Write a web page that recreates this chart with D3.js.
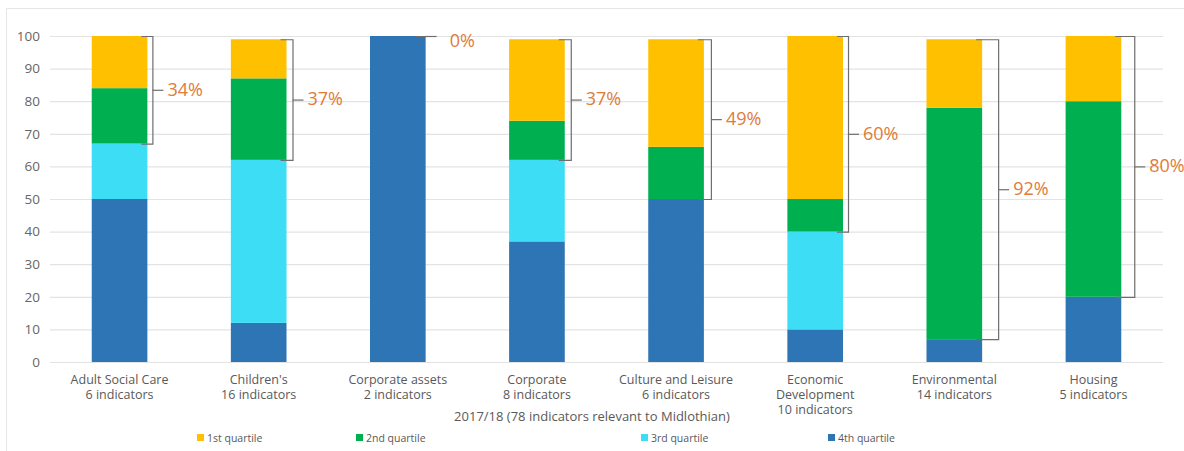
<!DOCTYPE html>
<html>
<head>
<meta charset="utf-8">
<script src="https://cdn.jsdelivr.net/npm/d3@7"></script>
<style>
  body { margin: 0; background: #fff; }
  text { font-family: "Open Sans", "Liberation Sans", sans-serif; }
</style>
</head>
<body>
<div id="chart"></div>
<script>
// Data
const categories = [
  ["Adult Social Care", "6 indicators"],
  ["Children's", "16 indicators"],
  ["Corporate assets", "2 indicators"],
  ["Corporate", "8 indicators"],
  ["Culture and Leisure", "6 indicators"],
  ["Economic", "Development", "10 indicators"],
  ["Environmental", "14 indicators"],
  ["Housing", "5 indicators"]
];
const quartile4 = [50, 12, 100, 37, 50, 10, 7, 20];
const quartile3 = [17, 50, 0, 25, 0, 30, 0, 0];
const quartile2 = [17, 25, 0, 12, 16, 10, 71, 60];
const quartile1 = [16, 12, 0, 25, 33, 50, 21, 20];
const bracketLabels = ["34%", "37%", "0%", "37%", "49%", "60%", "92%", "80%"];
const yTicks = [0, 10, 20, 30, 40, 50, 60, 70, 80, 90, 100];
const seriesNames = ["1st quartile", "2nd quartile", "3rd quartile", "4th quartile"];
const xTitle = "2017/18 (78 indicators relevant to Midlothian)";

// Layout / style
const colors = {
  "4th quartile": "#2E75B6",
  "3rd quartile": "#3CDDF5",
  "2nd quartile": "#00B050",
  "1st quartile": "#FFC000"
};
const bracketGap = [5, 6, 0, 6, 7, 5, 16, 13];
const legendX = [197, 356, 641, 828];

const W = 1184, H = 451;
const plot = { left: 50, right: 1163, top: 36, bottom: 362 };

const svg = d3.select("#chart").append("svg")
  .attr("width", W).attr("height", H);

// frame
svg.append("path")
  .attr("d", `M6.5,${H} V8.5 H${W}`)
  .attr("fill", "none")
  .attr("stroke", "#e6e6e6");

const x = d3.scaleBand()
  .domain(d3.range(categories.length))
  .range([plot.left, plot.right])
  .paddingInner(0.6)
  .paddingOuter(0.3);

const y = d3.scaleLinear()
  .domain([0, 100])
  .range([plot.bottom, plot.top]);

// gridlines
svg.append("g")
  .selectAll("line")
  .data(yTicks)
  .join("line")
  .attr("x1", plot.left).attr("x2", plot.right)
  .attr("y1", d => y(d) + 0.5).attr("y2", d => y(d) + 0.5)
  .attr("stroke", "#e3e3e3")
  .attr("stroke-width", 1.2);

// y axis labels
svg.append("g")
  .attr("transform", `translate(${plot.left - 10},0)`)
  .call(d3.axisLeft(y).tickValues(yTicks).tickSize(0).tickPadding(0))
  .call(g => g.select(".domain").remove())
  .call(g => g.selectAll("text")
    .attr("fill", "#666")
    .style("font-size", "13.5px")
    .style("font-family", "'Open Sans', sans-serif"));

// stacked bars
const rows = categories.map((c, i) => ({
  i,
  "4th quartile": quartile4[i],
  "3rd quartile": quartile3[i],
  "2nd quartile": quartile2[i],
  "1st quartile": quartile1[i]
}));
const stackKeys = ["4th quartile", "3rd quartile", "2nd quartile", "1st quartile"];
const stacked = d3.stack().keys(stackKeys)(rows);

svg.append("g")
  .selectAll("g")
  .data(stacked)
  .join("g")
  .attr("fill", d => colors[d.key])
  .selectAll("rect")
  .data(d => d)
  .join("rect")
  .attr("x", d => x(d.data.i))
  .attr("width", x.bandwidth())
  .attr("y", d => y(d[1]))
  .attr("height", d => y(d[0]) - y(d[1]));

// brackets (1st + 2nd quartile share)
const brackets = svg.append("g");
rows.forEach((r, i) => {
  const top = r["4th quartile"] + r["3rd quartile"] + r["2nd quartile"] + r["1st quartile"];
  const bottom = r["4th quartile"] + r["3rd quartile"];
  const barRight = x(i) + x.bandwidth();
  const bx = barRight + bracketGap[i];
  const yTop = y(top), yBot = y(bottom);
  const yMid = (yTop + yBot) / 2;
  const tickIn = Math.max(bracketGap[i] + 6, 10);
  brackets.append("path")
    .attr("d", `M${bx - tickIn},${yTop + 0.5} H${bx + 0.5} V${yBot + 0.5} H${bx - tickIn}`)
    .attr("fill", "none")
    .attr("stroke", "#6e6e6e")
    .attr("stroke-width", 1.2);
  brackets.append("line")
    .attr("x1", bx).attr("x2", bx + 11)
    .attr("y1", yMid + 0.5).attr("y2", yMid + 0.5)
    .attr("stroke", "#6e6e6e")
    .attr("stroke-width", 1.2);
  brackets.append("text")
    .attr("x", bx + (top === bottom ? 24 : 15))
    .attr("y", yMid + (top === bottom ? 6 : 1))
    .attr("dominant-baseline", "middle")
    .attr("fill", "#E07B39")
    .style("font-size", "18px")
    .text(bracketLabels[i]);
});

// category labels
const xl = svg.append("g");
categories.forEach((lines, i) => {
  const t = xl.append("text")
    .attr("x", x(i) + x.bandwidth() / 2)
    .attr("y", 384)
    .attr("text-anchor", "middle")
    .attr("fill", "#595959")
    .style("font-size", "12.5px");
  lines.forEach((l, k) => {
    t.append("tspan")
      .attr("x", x(i) + x.bandwidth() / 2)
      .attr("dy", k === 0 ? 0 : 15)
      .text(l);
  });
});

// x axis title
svg.append("text")
  .attr("x", 592)
  .attr("y", 421)
  .attr("text-anchor", "middle")
  .attr("fill", "#595959")
  .style("font-size", "13px")
  .text(xTitle);

// legend
const legend = svg.append("g")
  .selectAll("g")
  .data(seriesNames)
  .join("g")
  .attr("transform", (d, i) => `translate(${legendX[i]},434)`);

legend.append("rect")
  .attr("width", 7).attr("height", 7)
  .attr("fill", d => colors[d]);

legend.append("text")
  .attr("x", 10)
  .attr("y", 7.5)
  .attr("fill", "#595959")
  .style("font-size", "10.5px")
  .text(d => d);
</script>
</body>
</html>
